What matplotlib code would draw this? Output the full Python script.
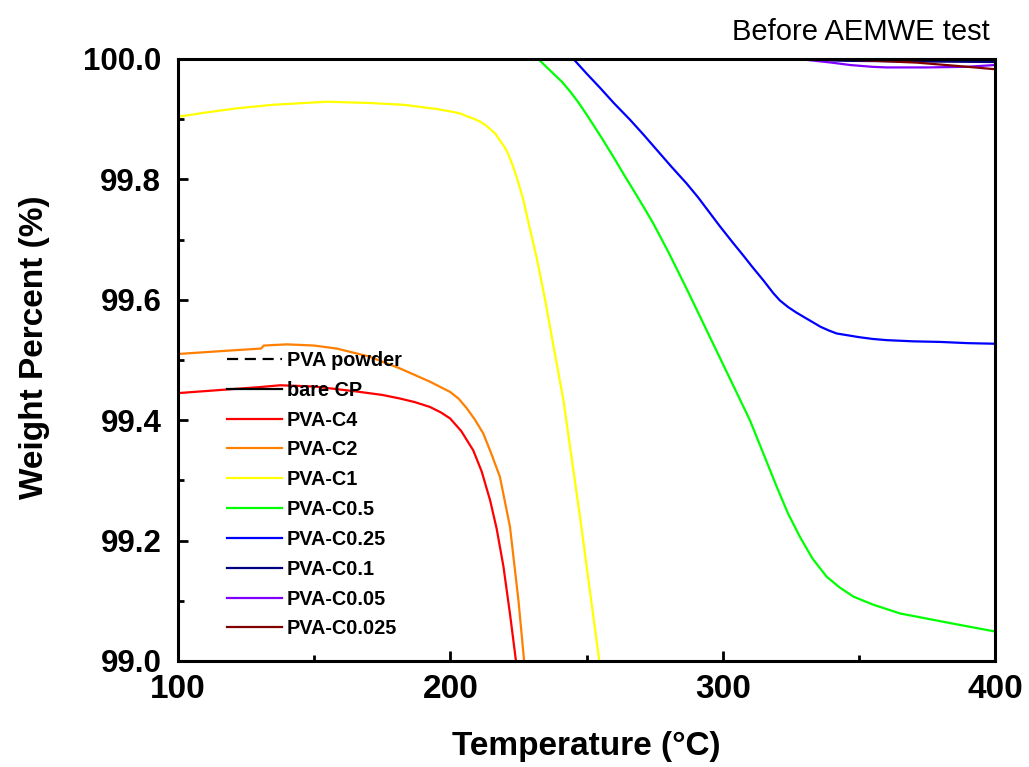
import matplotlib
matplotlib.use("Agg")
import matplotlib.pyplot as plt
from matplotlib.ticker import MultipleLocator

plt.rcParams['font.family'] = ['Liberation Sans', 'DejaVu Sans']

# ---- data (temperature in °C, weight percent in %) ----
labels = ["PVA powder", "bare CP", "PVA-C4", "PVA-C2", "PVA-C1", "PVA-C0.5",
          "PVA-C0.25", "PVA-C0.1", "PVA-C0.05", "PVA-C0.025"]

# PVA powder and bare CP lie outside the plotted window
t_powder = []
w_powder = []
t_cp = []
w_cp = []

t_c4 = [100, 115, 130, 137.5, 150, 165, 175, 181.5, 187, 192.5, 196.5, 199.9,
        204, 208.4, 211.5, 214.6, 217, 219.5, 222, 224.1]
w_c4 = [99.445, 99.450, 99.455, 99.458, 99.456, 99.448, 99.442, 99.436, 99.430,
        99.422, 99.413, 99.403, 99.382, 99.350, 99.315, 99.267, 99.220, 99.157,
        99.075, 99.0]

t_c2 = [100, 110, 120, 130.5, 131.5, 140, 150, 158.3, 170, 181.5, 192.5, 199.9,
        203, 206, 209, 212.1, 215, 218.2, 221.9, 225.0, 227.1]
w_c2 = [99.510, 99.513, 99.516, 99.519, 99.524, 99.526, 99.524, 99.519, 99.506,
        99.486, 99.464, 99.447, 99.436, 99.420, 99.401, 99.378, 99.345, 99.306,
        99.223, 99.101, 99.0]

t_c1 = [100, 110, 121.5, 135, 154.6, 170, 182.7, 195, 201.1, 204, 206, 208.5,
        210.9, 213, 214.5, 216.5, 218.2, 219.7, 221, 223.1, 224.8, 226.8, 229,
        231.7, 234.8, 238, 241.5, 247.6, 254.7]
w_c1 = [99.904, 99.911, 99.918, 99.924, 99.929, 99.927, 99.924, 99.917, 99.912,
        99.909, 99.905, 99.901, 99.896, 99.890, 99.884, 99.876, 99.865, 99.855,
        99.845, 99.821, 99.797, 99.766, 99.722, 99.670, 99.600, 99.520, 99.434,
        99.240, 99.0]

t_c05 = [232.3, 235, 238, 241, 244, 247, 250, 255, 259.8, 264, 267, 271, 274.5,
         280, 286.8, 290, 295, 301.5, 310.0, 315, 319.8, 324, 328.4, 333, 338.2,
         343, 348.0, 355, 365.1, 383.5, 400]
w_c05 = [100.0, 99.988, 99.975, 99.962, 99.946, 99.928, 99.908, 99.873, 99.838,
         99.806, 99.784, 99.754, 99.727, 99.680, 99.618, 99.588, 99.541, 99.480,
         99.400, 99.344, 99.290, 99.245, 99.206, 99.170, 99.140, 99.122, 99.107,
         99.094, 99.079, 99.063, 99.049]

t_c025 = [245.2, 250, 255, 260, 266.0, 271, 276, 281, 286.8, 291, 295, 299,
          303.9, 307.5, 311, 315, 318.6, 321, 324, 327, 329.6, 333, 336, 339,
          341.9, 346, 350, 355, 360.2, 370, 380, 390, 400]
w_c025 = [100.0, 99.976, 99.952, 99.927, 99.899, 99.874, 99.848, 99.822, 99.793,
          99.770, 99.746, 99.722, 99.694, 99.674, 99.654, 99.632, 99.611, 99.599,
          99.588, 99.579, 99.572, 99.563, 99.555, 99.549, 99.544, 99.541, 99.538,
          99.535, 99.533, 99.531, 99.530, 99.528, 99.527]

t_c01 = [100, 330, 345, 370, 400]
w_c01 = [100.0, 99.999, 99.997, 99.996, 99.995]

t_c005 = [100, 330, 340, 346.8, 355, 360.2, 375, 389.6, 400]
w_c005 = [100.0, 99.999, 99.994, 99.990, 99.987, 99.986, 99.986, 99.987, 99.990]

t_c0025 = [100, 340, 350.4, 371.3, 390, 400]
w_c0025 = [100.0, 100.0, 99.998, 99.994, 99.987, 99.983]

series_t = [t_powder, t_cp, t_c4, t_c2, t_c1, t_c05, t_c025, t_c01, t_c005, t_c0025]
series_w = [w_powder, w_cp, w_c4, w_c2, w_c1, w_c05, w_c025, w_c01, w_c005, w_c0025]
colors = ["#000000", "#000000", "#FF0000", "#FF8000", "#FFFF00", "#00FF00",
          "#0000FF", "#000080", "#8000FF", "#800000"]
styles = ["--", "-", "-", "-", "-", "-", "-", "-", "-", "-"]

xticks = [100, 200, 300, 400]
yticks = [99.0, 99.2, 99.4, 99.6, 99.8, 100.0]

fig = plt.figure(figsize=(10.29, 7.67), dpi=100)
ax = fig.add_axes([178/1029, 1 - 661/767, (995-178)/1029, (661-59)/767])

for t, w, c, ls, lab in zip(series_t, series_w, colors, styles, labels):
    ax.plot(t, w, color=c, ls=ls, lw=1.6, label=lab,
            dashes=(5, 3) if ls == "--" else (None, None))

ax.set_xlim(100, 400)
ax.set_ylim(99.0, 100.0)
ax.set_xticks(xticks)
ax.set_yticks(yticks)
ax.xaxis.set_minor_locator(MultipleLocator(50))
ax.yaxis.set_minor_locator(MultipleLocator(0.1))
ax.set_xticklabels([str(v) for v in xticks], fontsize=24, fontweight='bold')
ax.set_yticklabels([f"{v:.1f}" for v in yticks], fontsize=22.5, fontweight='bold')
ax.tick_params(axis='both', which='both', direction='in', top=False, right=False)
ax.tick_params(axis='both', which='major', length=7, width=2)
ax.tick_params(axis='both', which='minor', length=4, width=2)
ax.tick_params(axis='x', which='major', pad=9)
ax.tick_params(axis='y', which='major', pad=12)
for s in ax.spines.values():
    s.set_linewidth(2.2)

ax.set_xlabel("Temperature (°C)", fontsize=24, fontweight='bold', labelpad=19)
ax.set_ylabel("Weight Percent (%)", fontsize=24, fontweight='bold')
ax.yaxis.set_label_coords(-0.157, 0.522)

fig.text(990/1029, 1 - 40/767, "Before AEMWE test", fontsize=21,
         ha='right', va='baseline')

leg = ax.legend(loc='upper left', bbox_to_anchor=(0.06, 0.515), frameon=False,
                prop={'size': 14.3, 'weight': 'bold'}, handlelength=2.75,
                handletextpad=0.25, labelspacing=0.545, borderpad=0,
                borderaxespad=0)

fig.savefig("out.png", dpi=100)
